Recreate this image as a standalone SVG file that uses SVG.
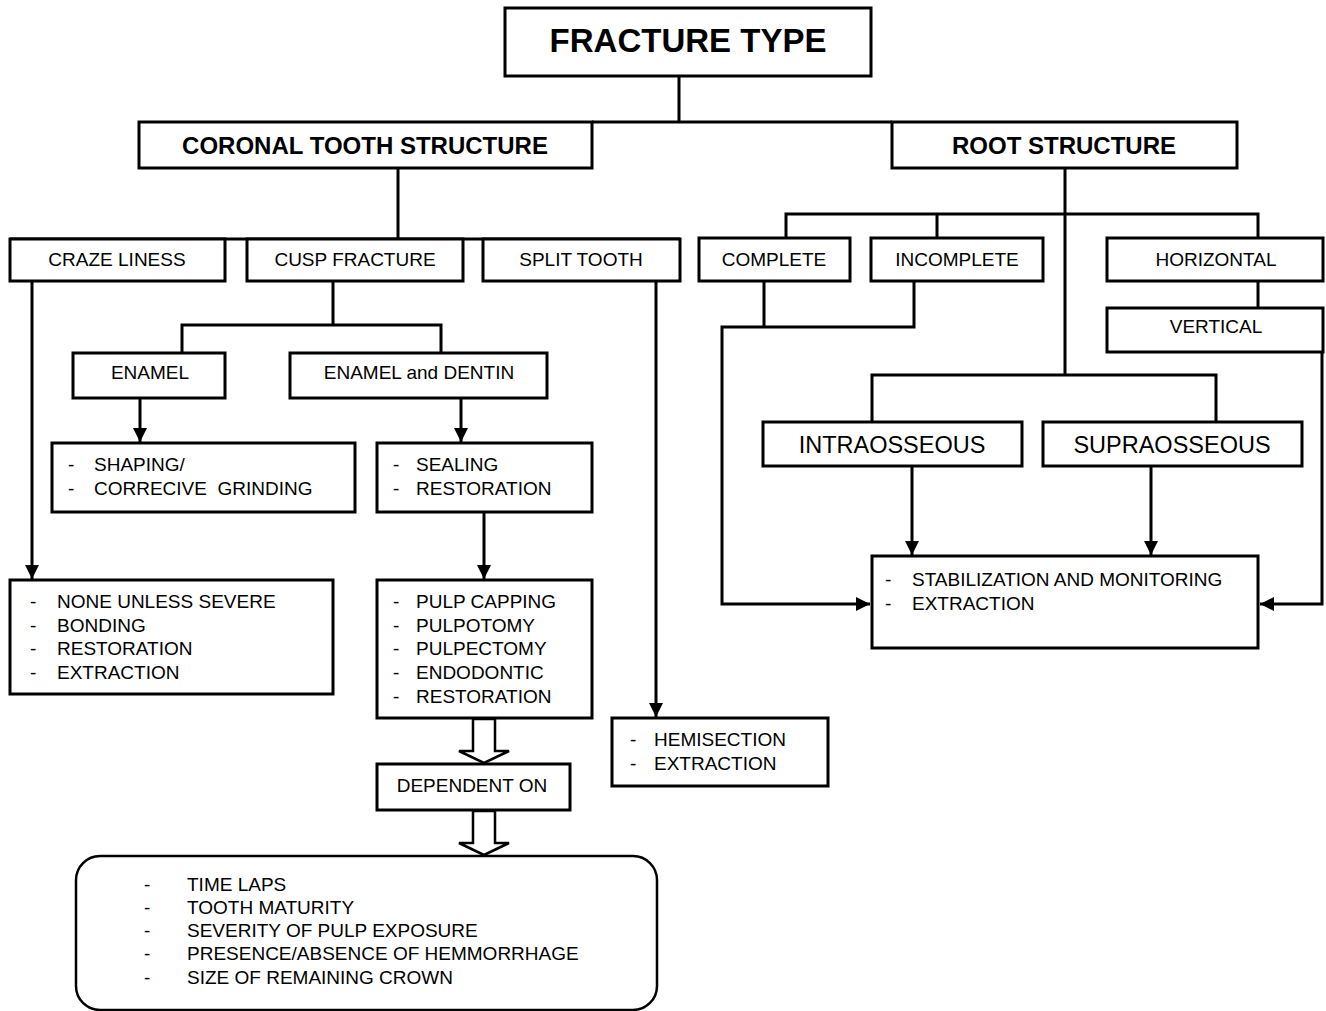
<svg xmlns="http://www.w3.org/2000/svg" width="1326" height="1011" viewBox="0 0 1326 1011">
<style>
.box{fill:#fff;stroke:#000;stroke-width:3}
.rbox{fill:#fff;stroke:#000;stroke-width:2.5}
.c{fill:none;stroke:#000;stroke-width:3}
.ha{fill:#fff;stroke:#000;stroke-width:2.5;stroke-linejoin:miter}
text{font-family:"Liberation Sans",Arial,sans-serif;fill:#000}
.t{font-size:19px}
.pre{white-space:pre}
.tm{text-anchor:middle}
.h{font-size:24px;font-weight:bold;text-anchor:middle}
.big{font-size:33px;font-weight:bold;text-anchor:middle}
.m{font-size:23.5px;text-anchor:middle}
</style>
<defs>
<marker id="ah" markerUnits="userSpaceOnUse" markerWidth="14" markerHeight="14" refX="14" refY="7" orient="auto">
<path d="M0,0 L14,7 L0,14 Z" fill="#000"/>
</marker>
</defs>
<rect width="1326" height="1011" fill="#fff"/>
<g id="connectors">
<path class="c" d="M679,76 V122 M592,122 H892"/>
<path class="c" d="M398,168 V239 M10,239 H680"/>
<path class="c" d="M1065,168 V375 M786,238 V214 H1258 V238 M937,214 V238"/>
<path class="c" d="M764,281 V327"/>
<path class="c" d="M914,281 V327 H722 V604 H870" marker-end="url(#ah)"/>
<path class="c" d="M1258,281 V308"/>
<path class="c" d="M1322,352 V604 H1260" marker-end="url(#ah)"/>
<path class="c" d="M872,422 V375 H1216 V422"/>
<path class="c" d="M912,466 V555" marker-end="url(#ah)"/>
<path class="c" d="M1151,466 V555" marker-end="url(#ah)"/>
<path class="c" d="M333,281 V325 M182,353 V325 H441 V353"/>
<path class="c" d="M140,398 V442" marker-end="url(#ah)"/>
<path class="c" d="M461,398 V442" marker-end="url(#ah)"/>
<path class="c" d="M484,512 V579" marker-end="url(#ah)"/>
<path class="c" d="M32,281 V579" marker-end="url(#ah)"/>
<path class="c" d="M656,281 V717" marker-end="url(#ah)"/>
<polygon class="ha" points="473,719 473,751 459,751 484,763 509,751 495,751 495,719"/>
<polygon class="ha" points="473,811 473,843 459,843 484,855 509,843 495,843 495,811"/>
</g>
<g id="fracture-type"><rect class="box" x="505" y="8" width="366" height="68"/><text class="big" x="688" y="52">FRACTURE TYPE</text></g>
<g id="coronal"><rect class="box" x="139" y="122" width="453" height="46"/><text class="h" x="365" y="154">CORONAL TOOTH STRUCTURE</text></g>
<g id="root"><rect class="box" x="892" y="122" width="345" height="46"/><text class="h" x="1064" y="154">ROOT STRUCTURE</text></g>
<g id="craze"><rect class="box" x="10" y="239" width="215" height="42"/><text class="t tm" x="117" y="266">CRAZE LINESS</text></g>
<g id="cusp"><rect class="box" x="247" y="239" width="216" height="42"/><text class="t tm" x="355" y="266">CUSP FRACTURE</text></g>
<g id="split"><rect class="box" x="483" y="239" width="197" height="42"/><text class="t tm" x="581" y="266">SPLIT TOOTH</text></g>
<g id="complete"><rect class="box" x="699" y="238" width="151" height="43"/><text class="t tm" x="774" y="266">COMPLETE</text></g>
<g id="incomplete"><rect class="box" x="871" y="238" width="172" height="43"/><text class="t tm" x="957" y="266">INCOMPLETE</text></g>
<g id="horizontal"><rect class="box" x="1107" y="238" width="216" height="43"/><text class="t tm" x="1216" y="266">HORIZONTAL</text></g>
<g id="vertical"><rect class="box" x="1107" y="308" width="216" height="44"/><text class="t tm" x="1216" y="333">VERTICAL</text></g>
<g id="intraosseous"><rect class="box" x="763" y="422" width="259" height="44"/><text class="m" x="892" y="453">INTRAOSSEOUS</text></g>
<g id="supraosseous"><rect class="box" x="1043" y="422" width="259" height="44"/><text class="m" x="1172" y="453">SUPRAOSSEOUS</text></g>
<g id="stabilization"><rect class="box" x="872" y="556" width="386" height="92"/>
<text class="t" x="885" y="586">-</text><text class="t" x="912" y="586">STABILIZATION AND MONITORING</text>
<text class="t" x="885" y="610">-</text><text class="t" x="912" y="610">EXTRACTION</text></g>
<g id="enamel"><rect class="box" x="73" y="353" width="152" height="45"/><text class="t tm" x="150" y="379">ENAMEL</text></g>
<g id="enamel-dentin"><rect class="box" x="290" y="353" width="257" height="45"/><text class="t tm" x="419" y="379">ENAMEL and DENTIN</text></g>
<g id="shaping"><rect class="box" x="52" y="443" width="303" height="69"/>
<text class="t" x="68" y="471">-</text><text class="t" x="94" y="471">SHAPING/</text>
<text class="t" x="68" y="495">-</text><text class="t pre" x="94" y="495">CORRECIVE  GRINDING</text></g>
<g id="sealing"><rect class="box" x="377" y="443" width="215" height="69"/>
<text class="t" x="393" y="471">-</text><text class="t" x="416" y="471">SEALING</text>
<text class="t" x="393" y="495">-</text><text class="t" x="416" y="495">RESTORATION</text></g>
<g id="none-unless"><rect class="box" x="10" y="580" width="323" height="114"/>
<text class="t" x="30" y="608">-</text><text class="t" x="57" y="608">NONE UNLESS SEVERE</text>
<text class="t" x="30" y="632">-</text><text class="t" x="57" y="632">BONDING</text>
<text class="t" x="30" y="655">-</text><text class="t" x="57" y="655">RESTORATION</text>
<text class="t" x="30" y="679">-</text><text class="t" x="57" y="679">EXTRACTION</text></g>
<g id="pulp"><rect class="box" x="377" y="580" width="215" height="138"/>
<text class="t" x="393" y="608">-</text><text class="t" x="416" y="608">PULP CAPPING</text>
<text class="t" x="393" y="632">-</text><text class="t" x="416" y="632">PULPOTOMY</text>
<text class="t" x="393" y="655">-</text><text class="t" x="416" y="655">PULPECTOMY</text>
<text class="t" x="393" y="679">-</text><text class="t" x="416" y="679">ENDODONTIC</text>
<text class="t" x="393" y="703">-</text><text class="t" x="416" y="703">RESTORATION</text></g>
<g id="hemisection"><rect class="box" x="612" y="718" width="216" height="68"/>
<text class="t" x="630" y="746">-</text><text class="t" x="654" y="746">HEMISECTION</text>
<text class="t" x="630" y="770">-</text><text class="t" x="654" y="770">EXTRACTION</text></g>
<g id="dependent"><rect class="box" x="377" y="764" width="193" height="46"/><text class="t tm" x="472" y="792">DEPENDENT ON</text></g>
<g id="factors"><rect class="rbox" x="76" y="856" width="581" height="154" rx="24" ry="24"/>
<text class="t" x="144" y="891">-</text><text class="t" x="187" y="891">TIME LAPS</text>
<text class="t" x="144" y="914">-</text><text class="t" x="187" y="914">TOOTH MATURITY</text>
<text class="t" x="144" y="937">-</text><text class="t" x="187" y="937">SEVERITY OF PULP EXPOSURE</text>
<text class="t" x="144" y="960">-</text><text class="t" x="187" y="960">PRESENCE/ABSENCE OF HEMMORRHAGE</text>
<text class="t" x="144" y="984">-</text><text class="t" x="187" y="984">SIZE OF REMAINING CROWN</text></g>
</svg>
